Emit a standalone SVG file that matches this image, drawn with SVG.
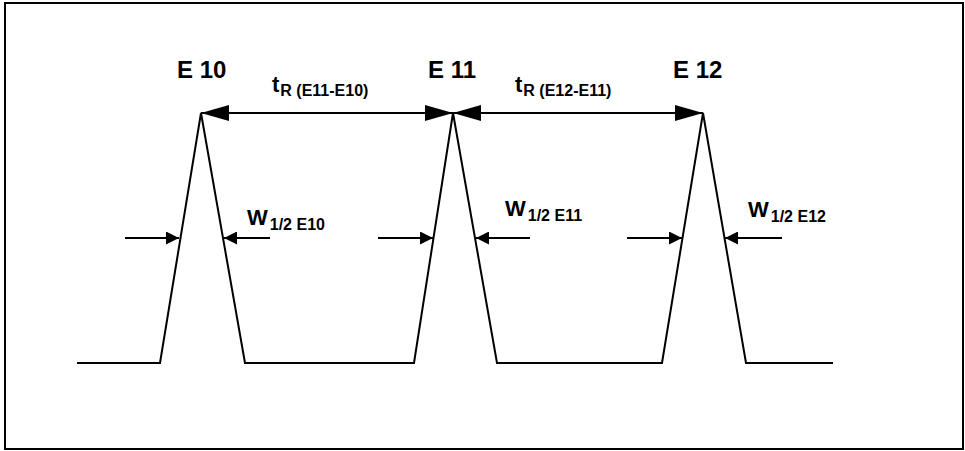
<svg xmlns="http://www.w3.org/2000/svg" width="965" height="451" viewBox="0 0 965 451">
<style>
.ln{fill:none;stroke:#000;stroke-width:2}
.lbl{font-family:"Liberation Sans",Arial,sans-serif;font-weight:bold;fill:#000}
.big{font-size:24px}
.t{font-size:22px}
.sub{font-size:16px}
</style>
<defs>
<marker id="bigArrow" markerUnits="userSpaceOnUse" viewBox="0 0 28 16" markerWidth="28" markerHeight="16" refX="28" refY="8" orient="auto-start-reverse">
<path d="M0,0 L28,8 L0,16 z" fill="#000"/>
</marker>
<marker id="smallArrow" markerUnits="userSpaceOnUse" viewBox="0 0 13 13" markerWidth="13" markerHeight="13" refX="13" refY="6.5" orient="auto">
<path d="M0,0 L13,6.5 L0,13 z" fill="#000"/>
</marker>
</defs>
<rect x="0" y="0" width="965" height="451" fill="#fff"/>
<rect id="frame" x="5" y="3" width="958" height="446" fill="none" stroke="#000" stroke-width="2"/>
<g id="signal">
<path class="ln" d="M77,363 L160,363 L201,113 L245,363 L414,363 L453,113 L497,363 L662,363 L703,113 L746,363 L833,363"/>
</g>
<g id="E10">
<text class="lbl big" x="177" y="78">E 10</text>
</g>
<g id="E11">
<text class="lbl big" x="428" y="78">E 11</text>
</g>
<g id="E12">
<text class="lbl big" x="673" y="78">E 12</text>
</g>
<g id="connectors">
<line class="ln" x1="201" y1="113" x2="453" y2="113" marker-start="url(#bigArrow)" marker-end="url(#bigArrow)"/>
<line class="ln" x1="453" y1="113" x2="703" y2="113" marker-start="url(#bigArrow)" marker-end="url(#bigArrow)"/>
<line class="ln" x1="125" y1="238" x2="179" y2="238" marker-end="url(#smallArrow)"/>
<line class="ln" x1="270" y1="238" x2="224" y2="238" marker-end="url(#smallArrow)"/>
<line class="ln" x1="378" y1="238" x2="433" y2="238" marker-end="url(#smallArrow)"/>
<line class="ln" x1="530" y1="238" x2="476" y2="238" marker-end="url(#smallArrow)"/>
<line class="ln" x1="627" y1="238" x2="682" y2="238" marker-end="url(#smallArrow)"/>
<line class="ln" x1="782" y1="238" x2="725" y2="238" marker-end="url(#smallArrow)"/>
</g>
<g id="labels">
<text class="lbl t" x="272" y="92">t<tspan class="sub" dx="1" dy="4">R (E11-E10)</tspan></text>
<text class="lbl t" x="515" y="92">t<tspan class="sub" dx="1" dy="4">R (E12-E11)</tspan></text>
<text class="lbl t" x="247" y="225">W<tspan class="sub" dx="2" dy="5">1/2 E10</tspan></text>
<text class="lbl t" x="505" y="216">W<tspan class="sub" dx="2" dy="5">1/2 E11</tspan></text>
<text class="lbl t" x="748" y="217">W<tspan class="sub" dx="2" dy="5">1/2 E12</tspan></text>
</g>
</svg>
